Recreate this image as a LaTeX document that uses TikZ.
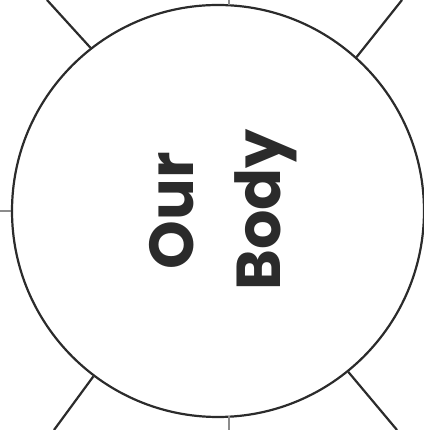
\documentclass[tikz,border=0pt]{standalone}
\usepackage{fontspec}
\setmainfont{Poppins}
\definecolor{ink}{HTML}{2B2B2B}
\definecolor{tick}{HTML}{8C8C8C}
\begin{document}
\begin{tikzpicture}[x=1pt,y=1pt,
  ring/.style={circle,draw=ink,line width=2.2pt,minimum size=412pt,inner sep=0pt},
  spoke/.style={draw=ink,line width=2.2pt},
  tickline/.style={draw=tick,line width=1.2pt},
  title/.style={rotate=90,anchor=base,text=ink,font=\fontsize{62}{72}\selectfont\bfseries}]
\useasboundingbox (0,0) rectangle (423,430);
\node[ring] (c) at (218,219) {};
\coordinate (tl) at (47,430);
\coordinate (tr) at (402,430);
\coordinate (bl) at (54,0);
\coordinate (br) at (397,0);
\draw[spoke] (c.128.8) -- (tl);
\draw[spoke] (c.48.7) -- (tr);
\draw[spoke] (c.233.5) -- (bl);
\draw[spoke] (c.309.2) -- (br);
\coordinate (lt) at (0,219);
\coordinate (tt0) at (229,430);
\coordinate (tt1) at (229,425);
\coordinate (bt0) at (229,0);
\coordinate (bt1) at (229,14);
\draw[tickline] (lt) -- (c.west);
\draw[tickline] (tt0) -- (tt1);
\draw[tickline] (bt0) -- (bt1);
\node[title] (our) at (193,219.5) {Our};
\node[title] (body) at (280,220) {Body};
\end{tikzpicture}
\end{document}
